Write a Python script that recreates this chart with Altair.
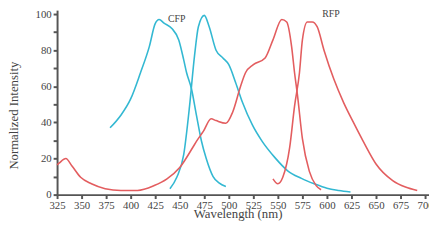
import altair as alt
import pandas as pd

# CFP excitation
cfp_ex_nm = [379, 390, 400, 410, 419, 425, 429, 434, 442, 449, 454, 457, 462, 467, 472, 477, 484, 490, 497]
cfp_ex_v = [37, 44, 53, 67.5, 82, 94.7, 97, 95, 92, 85.7, 74.8, 67.5, 58.5, 44, 30, 20, 10, 6.5, 4.5]
# CFP emission
cfp_em_nm = [440, 447, 454, 460, 465, 469, 475, 480, 487, 494, 500, 507, 514, 524, 534, 547, 560, 574, 587, 600, 612, 624]
cfp_em_v = [3.3, 9.6, 22, 49, 76.6, 93, 99.3, 93, 80, 75.7, 72, 62, 51, 38.6, 29.5, 20.5, 13.2, 9, 6, 3.5, 2.3, 1.5]
# RFP excitation
rfp_ex_nm = [325, 327, 334, 340, 349, 360, 374, 390, 407, 424, 437, 450, 464, 467, 474, 482, 487, 497, 504, 512, 517, 525, 537, 545, 554, 559, 564, 567, 570, 575, 582, 589, 594]
rfp_ex_v = [16.5, 17.4, 20, 16, 9.6, 6, 3.3, 2.3, 2.3, 5, 8.7, 15, 26.8, 29.5, 35, 42, 41, 39.5, 45.8, 60, 67.5, 72, 75.7, 85.7, 97, 95.6, 82, 67.5, 55, 31, 13, 5, 2.7]
# RFP emission
rfp_em_nm = [545, 550, 555, 562, 567, 572, 575, 580, 585, 590, 597, 607, 617, 627, 637, 650, 667, 680, 692]
rfp_em_v = [8.7, 6, 9.6, 26, 49, 67.5, 85.7, 95.6, 95.6, 93, 80, 64, 51, 40, 29.5, 17, 7.8, 4.2, 2.3]

labels = ["CFP", "RFP"]
label_nm = [447, 604]
label_v = [97, 100]

x_ticks = [325, 350, 375, 400, 425, 450, 475, 500, 525, 550, 575, 600, 625, 650, 675, 700]
y_ticks = [0, 10, 20, 30, 40, 50, 60, 70, 80, 90, 100]

rows = []
for name, col, nms, vs in [("cfp_ex", "CFP", cfp_ex_nm, cfp_ex_v), ("cfp_em", "CFP", cfp_em_nm, cfp_em_v),
                           ("rfp_ex", "RFP", rfp_ex_nm, rfp_ex_v), ("rfp_em", "RFP", rfp_em_nm, rfp_em_v)]:
    for n, v in zip(nms, vs):
        rows.append({"curve": name, "protein": col, "nm": n, "v": v})
df = pd.DataFrame(rows)
lab_df = pd.DataFrame({"label": labels, "nm": label_nm, "v": label_v})

FONT = "Liberation Serif"
xscale = alt.Scale(domain=[325, 704], nice=False, zero=False)
yscale = alt.Scale(domain=[0, 102.2], nice=False)

x_axis = alt.Axis(title="Wavelength (nm)", values=x_ticks, format="d",
                  labelOverlap=False, titlePadding=-3, titleX=184)
y_axis = alt.Axis(title="Normalized Intensity", values=y_ticks,
                  labelExpr="datum.value % 20 == 0 ? datum.label : ''",
                  labelOverlap=False, titleY=107, titleX=-37, labelPadding=2)

lines = alt.Chart(df).mark_line(strokeWidth=1.6, interpolate="monotone").encode(
    x=alt.X("nm:Q", scale=xscale, axis=x_axis),
    y=alt.Y("v:Q", scale=yscale, axis=y_axis),
    color=alt.Color("protein:N", scale=alt.Scale(domain=["CFP", "RFP"], range=["#33b8d2", "#e35d5f"]), legend=None),
    detail="curve:N",
)

text = alt.Chart(lab_df).mark_text(font=FONT, fontSize=10, color="#444", baseline="middle").encode(
    x=alt.X("nm:Q", scale=xscale, axis=x_axis), y=alt.Y("v:Q", scale=yscale, axis=y_axis), text="label:N"
)

chart = alt.layer(lines, text).properties(
    width=379, height=188,
    autosize=alt.AutoSizeParams(type="none"),
    padding={"left": 50, "top": 0, "right": 0, "bottom": 40},
).configure_view(stroke=None).configure_axis(
    labelOverlap=False, labelFlush=False, grid=False,
    labelFont=FONT, labelFontSize=11, labelColor="#444",
    titleFont=FONT, titleFontSize=13, titleFontWeight="normal", titleColor="#444",
    domainColor="#555", domainWidth=2, tickColor="#555", tickWidth=2, tickSize=4, labelPadding=1,
)

chart.save("out.html", embed_options={"renderer": "svg", "actions": False})
